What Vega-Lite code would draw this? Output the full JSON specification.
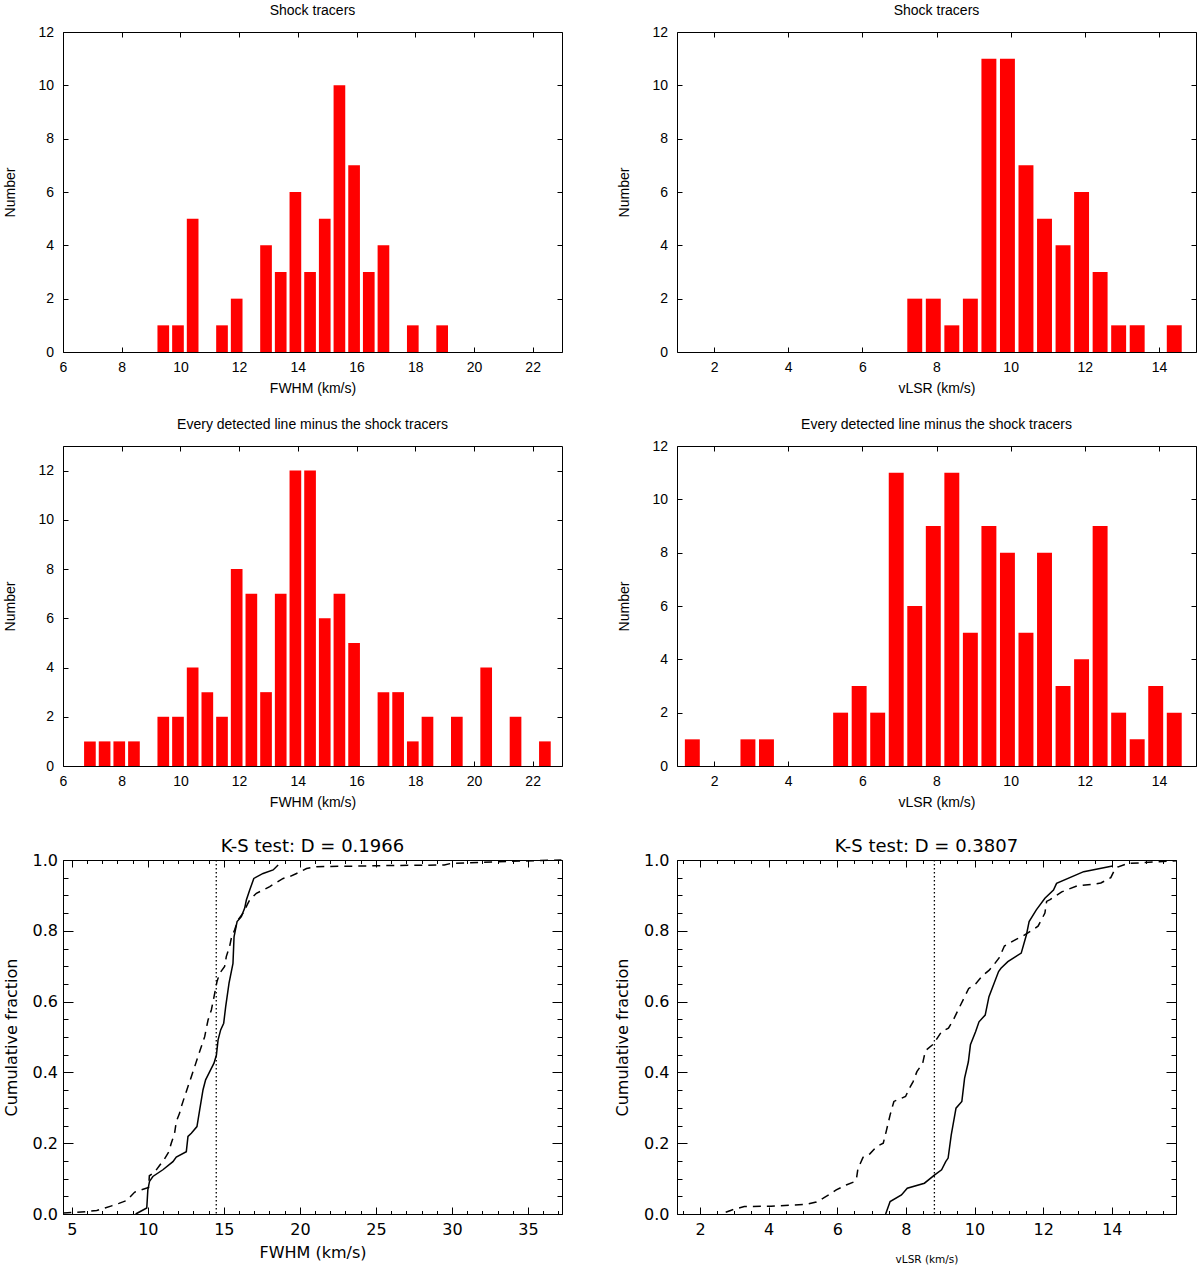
{
  "$schema": "https://vega.github.io/schema/vega-lite/v6.json",
  "background": "white",
  "padding": {"left": 3, "top": 3, "right": 2, "bottom": 0},
  "columns": 2,
  "align": "each",
  "bounds": "flush",
  "spacing": {"row": 94, "column": 115},
  "config": {
    "view": {"stroke": "black", "strokeWidth": 1},
    "axis": {
      "domain": false,
      "grid": false,
      "tickSize": -5,
      "tickColor": "black",
      "labelColor": "black",
      "labelFont": "Liberation Sans",
      "labelFontSize": 14,
      "labelFlush": false,
      "labelOverlap": false,
      "titleFont": "Liberation Sans",
      "titleFontSize": 14,
      "titleFontWeight": "normal",
      "titleColor": "black"
    },
    "axisX": {"labelPadding": 13, "titlePadding": 7},
    "axisY": {"labelPadding": 14.5, "titlePadding": 20},
    "title": {"font": "Liberation Sans", "fontSize": 14, "fontWeight": "normal", "color": "black", "offset": 7, "anchor": "middle"}
  },
  "datasets": {
    "fwhmShock": [
      {"lo": 9.15, "hi": 9.65, "n": 1}, {"lo": 9.65, "hi": 10.15, "n": 1}, {"lo": 10.15, "hi": 10.65, "n": 5},
      {"lo": 11.15, "hi": 11.65, "n": 1}, {"lo": 11.65, "hi": 12.15, "n": 2}, {"lo": 12.65, "hi": 13.15, "n": 4},
      {"lo": 13.15, "hi": 13.65, "n": 3}, {"lo": 13.65, "hi": 14.15, "n": 6}, {"lo": 14.15, "hi": 14.65, "n": 3},
      {"lo": 14.65, "hi": 15.15, "n": 5}, {"lo": 15.15, "hi": 15.65, "n": 10}, {"lo": 15.65, "hi": 16.15, "n": 7},
      {"lo": 16.15, "hi": 16.65, "n": 3}, {"lo": 16.65, "hi": 17.15, "n": 4}, {"lo": 17.65, "hi": 18.15, "n": 1},
      {"lo": 18.65, "hi": 19.15, "n": 1}
    ],
    "vlsrShock": [
      {"lo": 7.15, "hi": 7.65, "n": 2}, {"lo": 7.65, "hi": 8.15, "n": 2}, {"lo": 8.15, "hi": 8.65, "n": 1},
      {"lo": 8.65, "hi": 9.15, "n": 2}, {"lo": 9.15, "hi": 9.65, "n": 11}, {"lo": 9.65, "hi": 10.15, "n": 11},
      {"lo": 10.15, "hi": 10.65, "n": 7}, {"lo": 10.65, "hi": 11.15, "n": 5}, {"lo": 11.15, "hi": 11.65, "n": 4},
      {"lo": 11.65, "hi": 12.15, "n": 6}, {"lo": 12.15, "hi": 12.65, "n": 3}, {"lo": 12.65, "hi": 13.15, "n": 1},
      {"lo": 13.15, "hi": 13.65, "n": 1}, {"lo": 14.15, "hi": 14.65, "n": 1}
    ],
    "fwhmOther": [
      {"lo": 6.65, "hi": 7.15, "n": 1}, {"lo": 7.15, "hi": 7.65, "n": 1}, {"lo": 7.65, "hi": 8.15, "n": 1},
      {"lo": 8.15, "hi": 8.65, "n": 1}, {"lo": 9.15, "hi": 9.65, "n": 2}, {"lo": 9.65, "hi": 10.15, "n": 2},
      {"lo": 10.15, "hi": 10.65, "n": 4}, {"lo": 10.65, "hi": 11.15, "n": 3}, {"lo": 11.15, "hi": 11.65, "n": 2},
      {"lo": 11.65, "hi": 12.15, "n": 8}, {"lo": 12.15, "hi": 12.65, "n": 7}, {"lo": 12.65, "hi": 13.15, "n": 3},
      {"lo": 13.15, "hi": 13.65, "n": 7}, {"lo": 13.65, "hi": 14.15, "n": 12}, {"lo": 14.15, "hi": 14.65, "n": 12},
      {"lo": 14.65, "hi": 15.15, "n": 6}, {"lo": 15.15, "hi": 15.65, "n": 7}, {"lo": 15.65, "hi": 16.15, "n": 5},
      {"lo": 16.65, "hi": 17.15, "n": 3}, {"lo": 17.15, "hi": 17.65, "n": 3}, {"lo": 17.65, "hi": 18.15, "n": 1},
      {"lo": 18.15, "hi": 18.65, "n": 2}, {"lo": 19.15, "hi": 19.65, "n": 2}, {"lo": 20.15, "hi": 20.65, "n": 4},
      {"lo": 21.15, "hi": 21.65, "n": 2}, {"lo": 22.15, "hi": 22.65, "n": 1}
    ],
    "vlsrOther": [
      {"lo": 1.15, "hi": 1.65, "n": 1}, {"lo": 2.65, "hi": 3.15, "n": 1}, {"lo": 3.15, "hi": 3.65, "n": 1},
      {"lo": 5.15, "hi": 5.65, "n": 2}, {"lo": 5.65, "hi": 6.15, "n": 3}, {"lo": 6.15, "hi": 6.65, "n": 2},
      {"lo": 6.65, "hi": 7.15, "n": 11}, {"lo": 7.15, "hi": 7.65, "n": 6}, {"lo": 7.65, "hi": 8.15, "n": 9},
      {"lo": 8.15, "hi": 8.65, "n": 11}, {"lo": 8.65, "hi": 9.15, "n": 5}, {"lo": 9.15, "hi": 9.65, "n": 9},
      {"lo": 9.65, "hi": 10.15, "n": 8}, {"lo": 10.15, "hi": 10.65, "n": 5}, {"lo": 10.65, "hi": 11.15, "n": 8},
      {"lo": 11.15, "hi": 11.65, "n": 3}, {"lo": 11.65, "hi": 12.15, "n": 4}, {"lo": 12.15, "hi": 12.65, "n": 9},
      {"lo": 12.65, "hi": 13.15, "n": 2}, {"lo": 13.15, "hi": 13.65, "n": 1}, {"lo": 13.65, "hi": 14.15, "n": 3},
      {"lo": 14.15, "hi": 14.65, "n": 2}
    ],
    "ksFwhmShock": [
      {"v": 9.2, "f": 0.0}, {"v": 9.93, "f": 0.017}, {"v": 10.0, "f": 0.068}, {"v": 10.11, "f": 0.092},
      {"v": 10.33, "f": 0.106}, {"v": 10.99, "f": 0.125}, {"v": 11.65, "f": 0.148}, {"v": 11.87, "f": 0.161},
      {"v": 12.53, "f": 0.176}, {"v": 12.64, "f": 0.219}, {"v": 12.86, "f": 0.228}, {"v": 13.23, "f": 0.247},
      {"v": 13.41, "f": 0.294}, {"v": 13.63, "f": 0.351}, {"v": 13.8, "f": 0.379}, {"v": 14.07, "f": 0.402},
      {"v": 14.35, "f": 0.426}, {"v": 14.51, "f": 0.449}, {"v": 14.62, "f": 0.492}, {"v": 14.79, "f": 0.52},
      {"v": 14.99, "f": 0.539}, {"v": 15.12, "f": 0.586}, {"v": 15.34, "f": 0.652}, {"v": 15.6, "f": 0.708},
      {"v": 15.67, "f": 0.783}, {"v": 15.87, "f": 0.826}, {"v": 16.15, "f": 0.84}, {"v": 16.37, "f": 0.864},
      {"v": 16.48, "f": 0.887}, {"v": 16.7, "f": 0.915}, {"v": 16.97, "f": 0.948}, {"v": 17.58, "f": 0.962},
      {"v": 18.24, "f": 0.972}, {"v": 18.57, "f": 0.986}
    ],
    "ksFwhmOther": [
      {"v": 4.44, "f": 0.003}, {"v": 5.32, "f": 0.005}, {"v": 6.02, "f": 0.007}, {"v": 6.64, "f": 0.01},
      {"v": 7.18, "f": 0.017}, {"v": 7.62, "f": 0.023}, {"v": 8.1, "f": 0.03}, {"v": 8.6, "f": 0.038},
      {"v": 9.14, "f": 0.062}, {"v": 9.56, "f": 0.068}, {"v": 10.05, "f": 0.075}, {"v": 10.1, "f": 0.108},
      {"v": 10.44, "f": 0.118}, {"v": 10.77, "f": 0.137}, {"v": 11.1, "f": 0.156}, {"v": 11.38, "f": 0.176},
      {"v": 11.54, "f": 0.2}, {"v": 11.76, "f": 0.228}, {"v": 11.87, "f": 0.261}, {"v": 12.09, "f": 0.285},
      {"v": 12.2, "f": 0.303}, {"v": 12.42, "f": 0.332}, {"v": 12.64, "f": 0.36}, {"v": 12.86, "f": 0.388},
      {"v": 13.08, "f": 0.416}, {"v": 13.3, "f": 0.445}, {"v": 13.52, "f": 0.473}, {"v": 13.74, "f": 0.501},
      {"v": 13.85, "f": 0.525}, {"v": 13.96, "f": 0.548}, {"v": 14.18, "f": 0.577}, {"v": 14.29, "f": 0.6},
      {"v": 14.4, "f": 0.624}, {"v": 14.55, "f": 0.657}, {"v": 14.73, "f": 0.68}, {"v": 15.05, "f": 0.699},
      {"v": 15.16, "f": 0.727}, {"v": 15.38, "f": 0.756}, {"v": 15.49, "f": 0.779}, {"v": 15.71, "f": 0.803},
      {"v": 15.93, "f": 0.831}, {"v": 16.26, "f": 0.85}, {"v": 16.59, "f": 0.878}, {"v": 16.7, "f": 0.887},
      {"v": 17.14, "f": 0.906}, {"v": 17.58, "f": 0.915}, {"v": 18.02, "f": 0.925}, {"v": 18.35, "f": 0.934},
      {"v": 18.9, "f": 0.948}, {"v": 19.34, "f": 0.953}, {"v": 19.78, "f": 0.962}, {"v": 20.44, "f": 0.976},
      {"v": 21.1, "f": 0.981}, {"v": 25.4, "f": 0.984}, {"v": 29.5, "f": 0.986}, {"v": 29.9, "f": 0.99},
      {"v": 32.9, "f": 0.995}, {"v": 37.2, "f": 1.0}
    ],
    "ksVlsrShock": [
      {"v": 7.41, "f": 0.0}, {"v": 7.54, "f": 0.035}, {"v": 7.87, "f": 0.054}, {"v": 8.04, "f": 0.073},
      {"v": 8.54, "f": 0.087}, {"v": 8.83, "f": 0.11}, {"v": 9.04, "f": 0.125}, {"v": 9.16, "f": 0.148},
      {"v": 9.23, "f": 0.158}, {"v": 9.32, "f": 0.223}, {"v": 9.46, "f": 0.299}, {"v": 9.63, "f": 0.318},
      {"v": 9.71, "f": 0.384}, {"v": 9.82, "f": 0.43}, {"v": 9.88, "f": 0.478}, {"v": 10.03, "f": 0.515},
      {"v": 10.13, "f": 0.543}, {"v": 10.31, "f": 0.562}, {"v": 10.42, "f": 0.614}, {"v": 10.57, "f": 0.652},
      {"v": 10.7, "f": 0.685}, {"v": 10.77, "f": 0.694}, {"v": 10.97, "f": 0.713}, {"v": 11.36, "f": 0.737},
      {"v": 11.51, "f": 0.788}, {"v": 11.59, "f": 0.826}, {"v": 11.8, "f": 0.859}, {"v": 12.05, "f": 0.892},
      {"v": 12.3, "f": 0.915}, {"v": 12.39, "f": 0.934}, {"v": 13.18, "f": 0.967}, {"v": 14.02, "f": 0.983}
    ],
    "ksVlsrOther": [
      {"v": 2.75, "f": 0.005}, {"v": 2.95, "f": 0.012}, {"v": 3.29, "f": 0.021}, {"v": 4.07, "f": 0.022},
      {"v": 4.6, "f": 0.025}, {"v": 5.1, "f": 0.027}, {"v": 5.39, "f": 0.034}, {"v": 5.58, "f": 0.044},
      {"v": 5.82, "f": 0.058}, {"v": 5.97, "f": 0.068}, {"v": 6.26, "f": 0.082}, {"v": 6.5, "f": 0.091},
      {"v": 6.56, "f": 0.1}, {"v": 6.6, "f": 0.127}, {"v": 6.75, "f": 0.16}, {"v": 6.95, "f": 0.17},
      {"v": 7.14, "f": 0.19}, {"v": 7.34, "f": 0.2}, {"v": 7.43, "f": 0.235}, {"v": 7.54, "f": 0.28},
      {"v": 7.65, "f": 0.318}, {"v": 7.99, "f": 0.332}, {"v": 8.1, "f": 0.355}, {"v": 8.21, "f": 0.374},
      {"v": 8.32, "f": 0.402}, {"v": 8.49, "f": 0.426}, {"v": 8.54, "f": 0.449}, {"v": 8.6, "f": 0.464},
      {"v": 8.8, "f": 0.48}, {"v": 9.04, "f": 0.515}, {"v": 9.24, "f": 0.525}, {"v": 9.39, "f": 0.55},
      {"v": 9.54, "f": 0.58}, {"v": 9.83, "f": 0.637}, {"v": 10.03, "f": 0.65}, {"v": 10.23, "f": 0.673},
      {"v": 10.42, "f": 0.688}, {"v": 10.57, "f": 0.705}, {"v": 10.72, "f": 0.724}, {"v": 10.87, "f": 0.757},
      {"v": 11.21, "f": 0.776}, {"v": 11.41, "f": 0.785}, {"v": 11.85, "f": 0.813}, {"v": 12.05, "f": 0.85},
      {"v": 12.1, "f": 0.883}, {"v": 12.2, "f": 0.888}, {"v": 12.54, "f": 0.91}, {"v": 12.99, "f": 0.927},
      {"v": 13.48, "f": 0.932}, {"v": 13.68, "f": 0.935}, {"v": 13.97, "f": 0.95}, {"v": 14.07, "f": 0.97},
      {"v": 14.17, "f": 0.98}, {"v": 14.46, "f": 0.99}, {"v": 15.87, "f": 0.998}
    ]
  },
  "concat": [
    {
      "width": 499, "height": 320,
      "title": {"text": "Shock tracers"},
      "data": {"name": "fwhmShock"},
      "resolve": {"axis": {"x": "independent", "y": "independent"}},
      "layer": [
        {
          "mark": {"type": "bar", "color": "#ff0000", "binSpacing": 3},
          "encoding": {
            "x": {"field": "lo", "type": "quantitative", "bin": {"binned": true}, "scale": {"domain": [6, 23], "nice": false, "zero": false},
                  "axis": {"orient": "bottom", "values": [6, 8, 10, 12, 14, 16, 18, 20, 22], "format": "d", "title": "FWHM (km/s)"}},
            "x2": {"field": "hi"},
            "y": {"field": "n", "type": "quantitative", "scale": {"domain": [0, 12], "nice": false},
                  "axis": {"orient": "left", "values": [0, 2, 4, 6, 8, 10, 12], "format": "d", "title": "Number"}}
          }
        },
        {
          "mark": {"type": "bar", "opacity": 0, "binSpacing": 3},
          "encoding": {
            "x": {"field": "lo", "type": "quantitative", "bin": {"binned": true}, "scale": {"domain": [6, 23], "nice": false, "zero": false},
                  "axis": {"orient": "top", "values": [6, 8, 10, 12, 14, 16, 18, 20, 22], "labels": false, "title": null}},
            "x2": {"field": "hi"},
            "y": {"field": "n", "type": "quantitative", "scale": {"domain": [0, 12], "nice": false},
                  "axis": {"orient": "right", "values": [0, 2, 4, 6, 8, 10, 12], "labels": false, "title": null}}
          }
        }
      ]
    },
    {
      "width": 519, "height": 320,
      "title": {"text": "Shock tracers"},
      "data": {"name": "vlsrShock"},
      "resolve": {"axis": {"x": "independent", "y": "independent"}},
      "layer": [
        {
          "mark": {"type": "bar", "color": "#ff0000", "binSpacing": 3.6},
          "encoding": {
            "x": {"field": "lo", "type": "quantitative", "bin": {"binned": true}, "scale": {"domain": [1, 15], "nice": false, "zero": false},
                  "axis": {"orient": "bottom", "values": [2, 4, 6, 8, 10, 12, 14], "format": "d", "title": "vLSR (km/s)"}},
            "x2": {"field": "hi"},
            "y": {"field": "n", "type": "quantitative", "scale": {"domain": [0, 12], "nice": false},
                  "axis": {"orient": "left", "values": [0, 2, 4, 6, 8, 10, 12], "format": "d", "title": "Number"}}
          }
        },
        {
          "mark": {"type": "bar", "opacity": 0, "binSpacing": 3.6},
          "encoding": {
            "x": {"field": "lo", "type": "quantitative", "bin": {"binned": true}, "scale": {"domain": [1, 15], "nice": false, "zero": false},
                  "axis": {"orient": "top", "values": [2, 4, 6, 8, 10, 12, 14], "labels": false, "title": null}},
            "x2": {"field": "hi"},
            "y": {"field": "n", "type": "quantitative", "scale": {"domain": [0, 12], "nice": false},
                  "axis": {"orient": "right", "values": [0, 2, 4, 6, 8, 10, 12], "labels": false, "title": null}}
          }
        }
      ]
    },
    {
      "width": 499, "height": 320,
      "title": {"text": "Every detected line minus the shock tracers", "offset": 14},
      "data": {"name": "fwhmOther"},
      "resolve": {"axis": {"x": "independent", "y": "independent"}},
      "layer": [
        {
          "mark": {"type": "bar", "color": "#ff0000", "binSpacing": 3},
          "encoding": {
            "x": {"field": "lo", "type": "quantitative", "bin": {"binned": true}, "scale": {"domain": [6, 23], "nice": false, "zero": false},
                  "axis": {"orient": "bottom", "values": [6, 8, 10, 12, 14, 16, 18, 20, 22], "format": "d", "title": "FWHM (km/s)"}},
            "x2": {"field": "hi"},
            "y": {"field": "n", "type": "quantitative", "scale": {"domain": [0, 13], "nice": false},
                  "axis": {"orient": "left", "values": [0, 2, 4, 6, 8, 10, 12], "format": "d", "title": "Number"}}
          }
        },
        {
          "mark": {"type": "bar", "opacity": 0, "binSpacing": 3},
          "encoding": {
            "x": {"field": "lo", "type": "quantitative", "bin": {"binned": true}, "scale": {"domain": [6, 23], "nice": false, "zero": false},
                  "axis": {"orient": "top", "values": [6, 8, 10, 12, 14, 16, 18, 20, 22], "labels": false, "title": null}},
            "x2": {"field": "hi"},
            "y": {"field": "n", "type": "quantitative", "scale": {"domain": [0, 13], "nice": false},
                  "axis": {"orient": "right", "values": [0, 2, 4, 6, 8, 10, 12], "labels": false, "title": null}}
          }
        }
      ]
    },
    {
      "width": 519, "height": 320,
      "title": {"text": "Every detected line minus the shock tracers"},
      "data": {"name": "vlsrOther"},
      "resolve": {"axis": {"x": "independent", "y": "independent"}},
      "layer": [
        {
          "mark": {"type": "bar", "color": "#ff0000", "binSpacing": 3.6},
          "encoding": {
            "x": {"field": "lo", "type": "quantitative", "bin": {"binned": true}, "scale": {"domain": [1, 15], "nice": false, "zero": false},
                  "axis": {"orient": "bottom", "values": [2, 4, 6, 8, 10, 12, 14], "format": "d", "title": "vLSR (km/s)"}},
            "x2": {"field": "hi"},
            "y": {"field": "n", "type": "quantitative", "scale": {"domain": [0, 12], "nice": false},
                  "axis": {"orient": "left", "values": [0, 2, 4, 6, 8, 10, 12], "format": "d", "title": "Number"}}
          }
        },
        {
          "mark": {"type": "bar", "opacity": 0, "binSpacing": 3.6},
          "encoding": {
            "x": {"field": "lo", "type": "quantitative", "bin": {"binned": true}, "scale": {"domain": [1, 15], "nice": false, "zero": false},
                  "axis": {"orient": "top", "values": [2, 4, 6, 8, 10, 12, 14], "labels": false, "title": null}},
            "x2": {"field": "hi"},
            "y": {"field": "n", "type": "quantitative", "scale": {"domain": [0, 12], "nice": false},
                  "axis": {"orient": "right", "values": [0, 2, 4, 6, 8, 10, 12], "labels": false, "title": null}}
          }
        }
      ]
    },
    {
      "width": 499, "height": 354,
      "title": {"text": "K-S test:  D = 0.1966", "font": "DejaVu Sans", "fontSize": 18, "offset": -4},
      "resolve": {"axis": {"x": "independent", "y": "independent"}},
      "layer": [
        {
          "data": {"name": "ksFwhmOther"},
          "mark": {"type": "line", "color": "black", "strokeWidth": 1.5, "strokeDash": [8, 6]},
          "encoding": {
            "x": {"field": "v", "type": "quantitative", "scale": {"domain": [4.42, 37.24], "nice": false, "zero": false},
                  "axis": {"orient": "bottom", "values": [5, 10, 15, 20, 25, 30, 35], "format": "d", "tickSize": -7, "labelPadding": 14.5,
                           "labelFont": "DejaVu Sans", "labelFontSize": 16, "title": "FWHM (km/s)", "titleFont": "DejaVu Sans", "titleFontSize": 16, "titlePadding": 7}},
            "y": {"field": "f", "type": "quantitative", "scale": {"domain": [0, 1], "nice": false},
                  "axis": {"orient": "left", "values": [0, 0.2, 0.4, 0.6, 0.8, 1], "format": ".1f", "tickSize": -10, "labelPadding": 15.5,
                           "labelFont": "DejaVu Sans", "labelFontSize": 16, "title": "Cumulative fraction", "titleFont": "DejaVu Sans", "titleFontSize": 16, "titlePadding": 12.5}}
          }
        },
        {
          "data": {"name": "ksFwhmShock"},
          "mark": {"type": "line", "color": "black", "strokeWidth": 1.5},
          "encoding": {
            "x": {"field": "v", "type": "quantitative", "scale": {"domain": [4.42, 37.24], "nice": false, "zero": false},
                  "axis": {"orient": "top", "values": [5, 10, 15, 20, 25, 30, 35], "tickSize": -7, "labels": false, "title": null}},
            "y": {"field": "f", "type": "quantitative", "scale": {"domain": [0, 1], "nice": false},
                  "axis": {"orient": "right", "values": [0, 0.2, 0.4, 0.6, 0.8, 1], "tickSize": -10, "labels": false, "title": null}}
          }
        },
        {
          "data": {"name": "ksFwhmShock"},
          "mark": {"type": "line", "opacity": 0},
          "encoding": {
            "x": {"field": "v", "type": "quantitative", "scale": {"domain": [4.42, 37.24], "nice": false, "zero": false},
                  "axis": {"orient": "bottom", "values": [5, 6, 7, 8, 9, 10, 11, 12, 13, 14, 15, 16, 17, 18, 19, 20, 21, 22, 23, 24, 25, 26, 27, 28, 29, 30, 31, 32, 33, 34, 35, 36, 37], "tickSize": -3.5, "labels": false, "title": null}},
            "y": {"field": "f", "type": "quantitative", "scale": {"domain": [0, 1], "nice": false},
                  "axis": {"orient": "left", "values": [0, 0.05, 0.1, 0.15, 0.2, 0.25, 0.3, 0.35, 0.4, 0.45, 0.5, 0.55, 0.6, 0.65, 0.7, 0.75, 0.8, 0.85, 0.9, 0.95, 1], "tickSize": -5, "labels": false, "title": null}}
          }
        },
        {
          "data": {"name": "ksFwhmShock"},
          "mark": {"type": "line", "opacity": 0},
          "encoding": {
            "x": {"field": "v", "type": "quantitative", "scale": {"domain": [4.42, 37.24], "nice": false, "zero": false},
                  "axis": {"orient": "top", "values": [5, 6, 7, 8, 9, 10, 11, 12, 13, 14, 15, 16, 17, 18, 19, 20, 21, 22, 23, 24, 25, 26, 27, 28, 29, 30, 31, 32, 33, 34, 35, 36, 37], "tickSize": -3.5, "labels": false, "title": null}},
            "y": {"field": "f", "type": "quantitative", "scale": {"domain": [0, 1], "nice": false},
                  "axis": {"orient": "right", "values": [0, 0.05, 0.1, 0.15, 0.2, 0.25, 0.3, 0.35, 0.4, 0.45, 0.5, 0.55, 0.6, 0.65, 0.7, 0.75, 0.8, 0.85, 0.9, 0.95, 1], "tickSize": -5, "labels": false, "title": null}}
          }
        },
        {
          "data": {"values": [{}]},
          "mark": {"type": "rule", "color": "black", "strokeWidth": 1.3, "strokeDash": [1.5, 2.5]},
          "encoding": {"x": {"datum": 14.5, "axis": null}}
        }
      ]
    },
    {
      "width": 499, "height": 354,
      "title": {"text": "K-S test:  D = 0.3807", "font": "DejaVu Sans", "fontSize": 18, "offset": -4},
      "resolve": {"axis": {"x": "independent", "y": "independent"}},
      "layer": [
        {
          "data": {"name": "ksVlsrOther"},
          "mark": {"type": "line", "color": "black", "strokeWidth": 1.5, "strokeDash": [8, 6]},
          "encoding": {
            "x": {"field": "v", "type": "quantitative", "scale": {"domain": [1.33, 15.87], "nice": false, "zero": false},
                  "axis": {"orient": "bottom", "values": [2, 4, 6, 8, 10, 12, 14], "format": "d", "tickSize": -7, "labelPadding": 14.5,
                           "labelFont": "DejaVu Sans", "labelFontSize": 16, "title": "vLSR (km/s)", "titleFont": "DejaVu Sans", "titleFontSize": 10.5, "titlePadding": 17}},
            "y": {"field": "f", "type": "quantitative", "scale": {"domain": [0, 1], "nice": false},
                  "axis": {"orient": "left", "values": [0, 0.2, 0.4, 0.6, 0.8, 1], "format": ".1f", "tickSize": -10, "labelPadding": 18,
                           "labelFont": "DejaVu Sans", "labelFontSize": 16, "title": "Cumulative fraction", "titleFont": "DejaVu Sans", "titleFontSize": 16, "titlePadding": 13.5}}
          }
        },
        {
          "data": {"name": "ksVlsrShock"},
          "mark": {"type": "line", "color": "black", "strokeWidth": 1.5},
          "encoding": {
            "x": {"field": "v", "type": "quantitative", "scale": {"domain": [1.33, 15.87], "nice": false, "zero": false},
                  "axis": {"orient": "top", "values": [2, 4, 6, 8, 10, 12, 14], "tickSize": -7, "labels": false, "title": null}},
            "y": {"field": "f", "type": "quantitative", "scale": {"domain": [0, 1], "nice": false},
                  "axis": {"orient": "right", "values": [0, 0.2, 0.4, 0.6, 0.8, 1], "tickSize": -10, "labels": false, "title": null}}
          }
        },
        {
          "data": {"name": "ksVlsrShock"},
          "mark": {"type": "line", "opacity": 0},
          "encoding": {
            "x": {"field": "v", "type": "quantitative", "scale": {"domain": [1.33, 15.87], "nice": false, "zero": false},
                  "axis": {"orient": "bottom", "values": [1.5, 2, 2.5, 3, 3.5, 4, 4.5, 5, 5.5, 6, 6.5, 7, 7.5, 8, 8.5, 9, 9.5, 10, 10.5, 11, 11.5, 12, 12.5, 13, 13.5, 14, 14.5, 15, 15.5], "tickSize": -3.5, "labels": false, "title": null}},
            "y": {"field": "f", "type": "quantitative", "scale": {"domain": [0, 1], "nice": false},
                  "axis": {"orient": "left", "values": [0, 0.05, 0.1, 0.15, 0.2, 0.25, 0.3, 0.35, 0.4, 0.45, 0.5, 0.55, 0.6, 0.65, 0.7, 0.75, 0.8, 0.85, 0.9, 0.95, 1], "tickSize": -5, "labels": false, "title": null}}
          }
        },
        {
          "data": {"name": "ksVlsrShock"},
          "mark": {"type": "line", "opacity": 0},
          "encoding": {
            "x": {"field": "v", "type": "quantitative", "scale": {"domain": [1.33, 15.87], "nice": false, "zero": false},
                  "axis": {"orient": "top", "values": [1.5, 2, 2.5, 3, 3.5, 4, 4.5, 5, 5.5, 6, 6.5, 7, 7.5, 8, 8.5, 9, 9.5, 10, 10.5, 11, 11.5, 12, 12.5, 13, 13.5, 14, 14.5, 15, 15.5], "tickSize": -3.5, "labels": false, "title": null}},
            "y": {"field": "f", "type": "quantitative", "scale": {"domain": [0, 1], "nice": false},
                  "axis": {"orient": "right", "values": [0, 0.05, 0.1, 0.15, 0.2, 0.25, 0.3, 0.35, 0.4, 0.45, 0.5, 0.55, 0.6, 0.65, 0.7, 0.75, 0.8, 0.85, 0.9, 0.95, 1], "tickSize": -5, "labels": false, "title": null}}
          }
        },
        {
          "data": {"values": [{}]},
          "mark": {"type": "rule", "color": "black", "strokeWidth": 1.3, "strokeDash": [1.5, 2.5]},
          "encoding": {"x": {"datum": 8.83, "axis": null}}
        }
      ]
    }
  ]
}
